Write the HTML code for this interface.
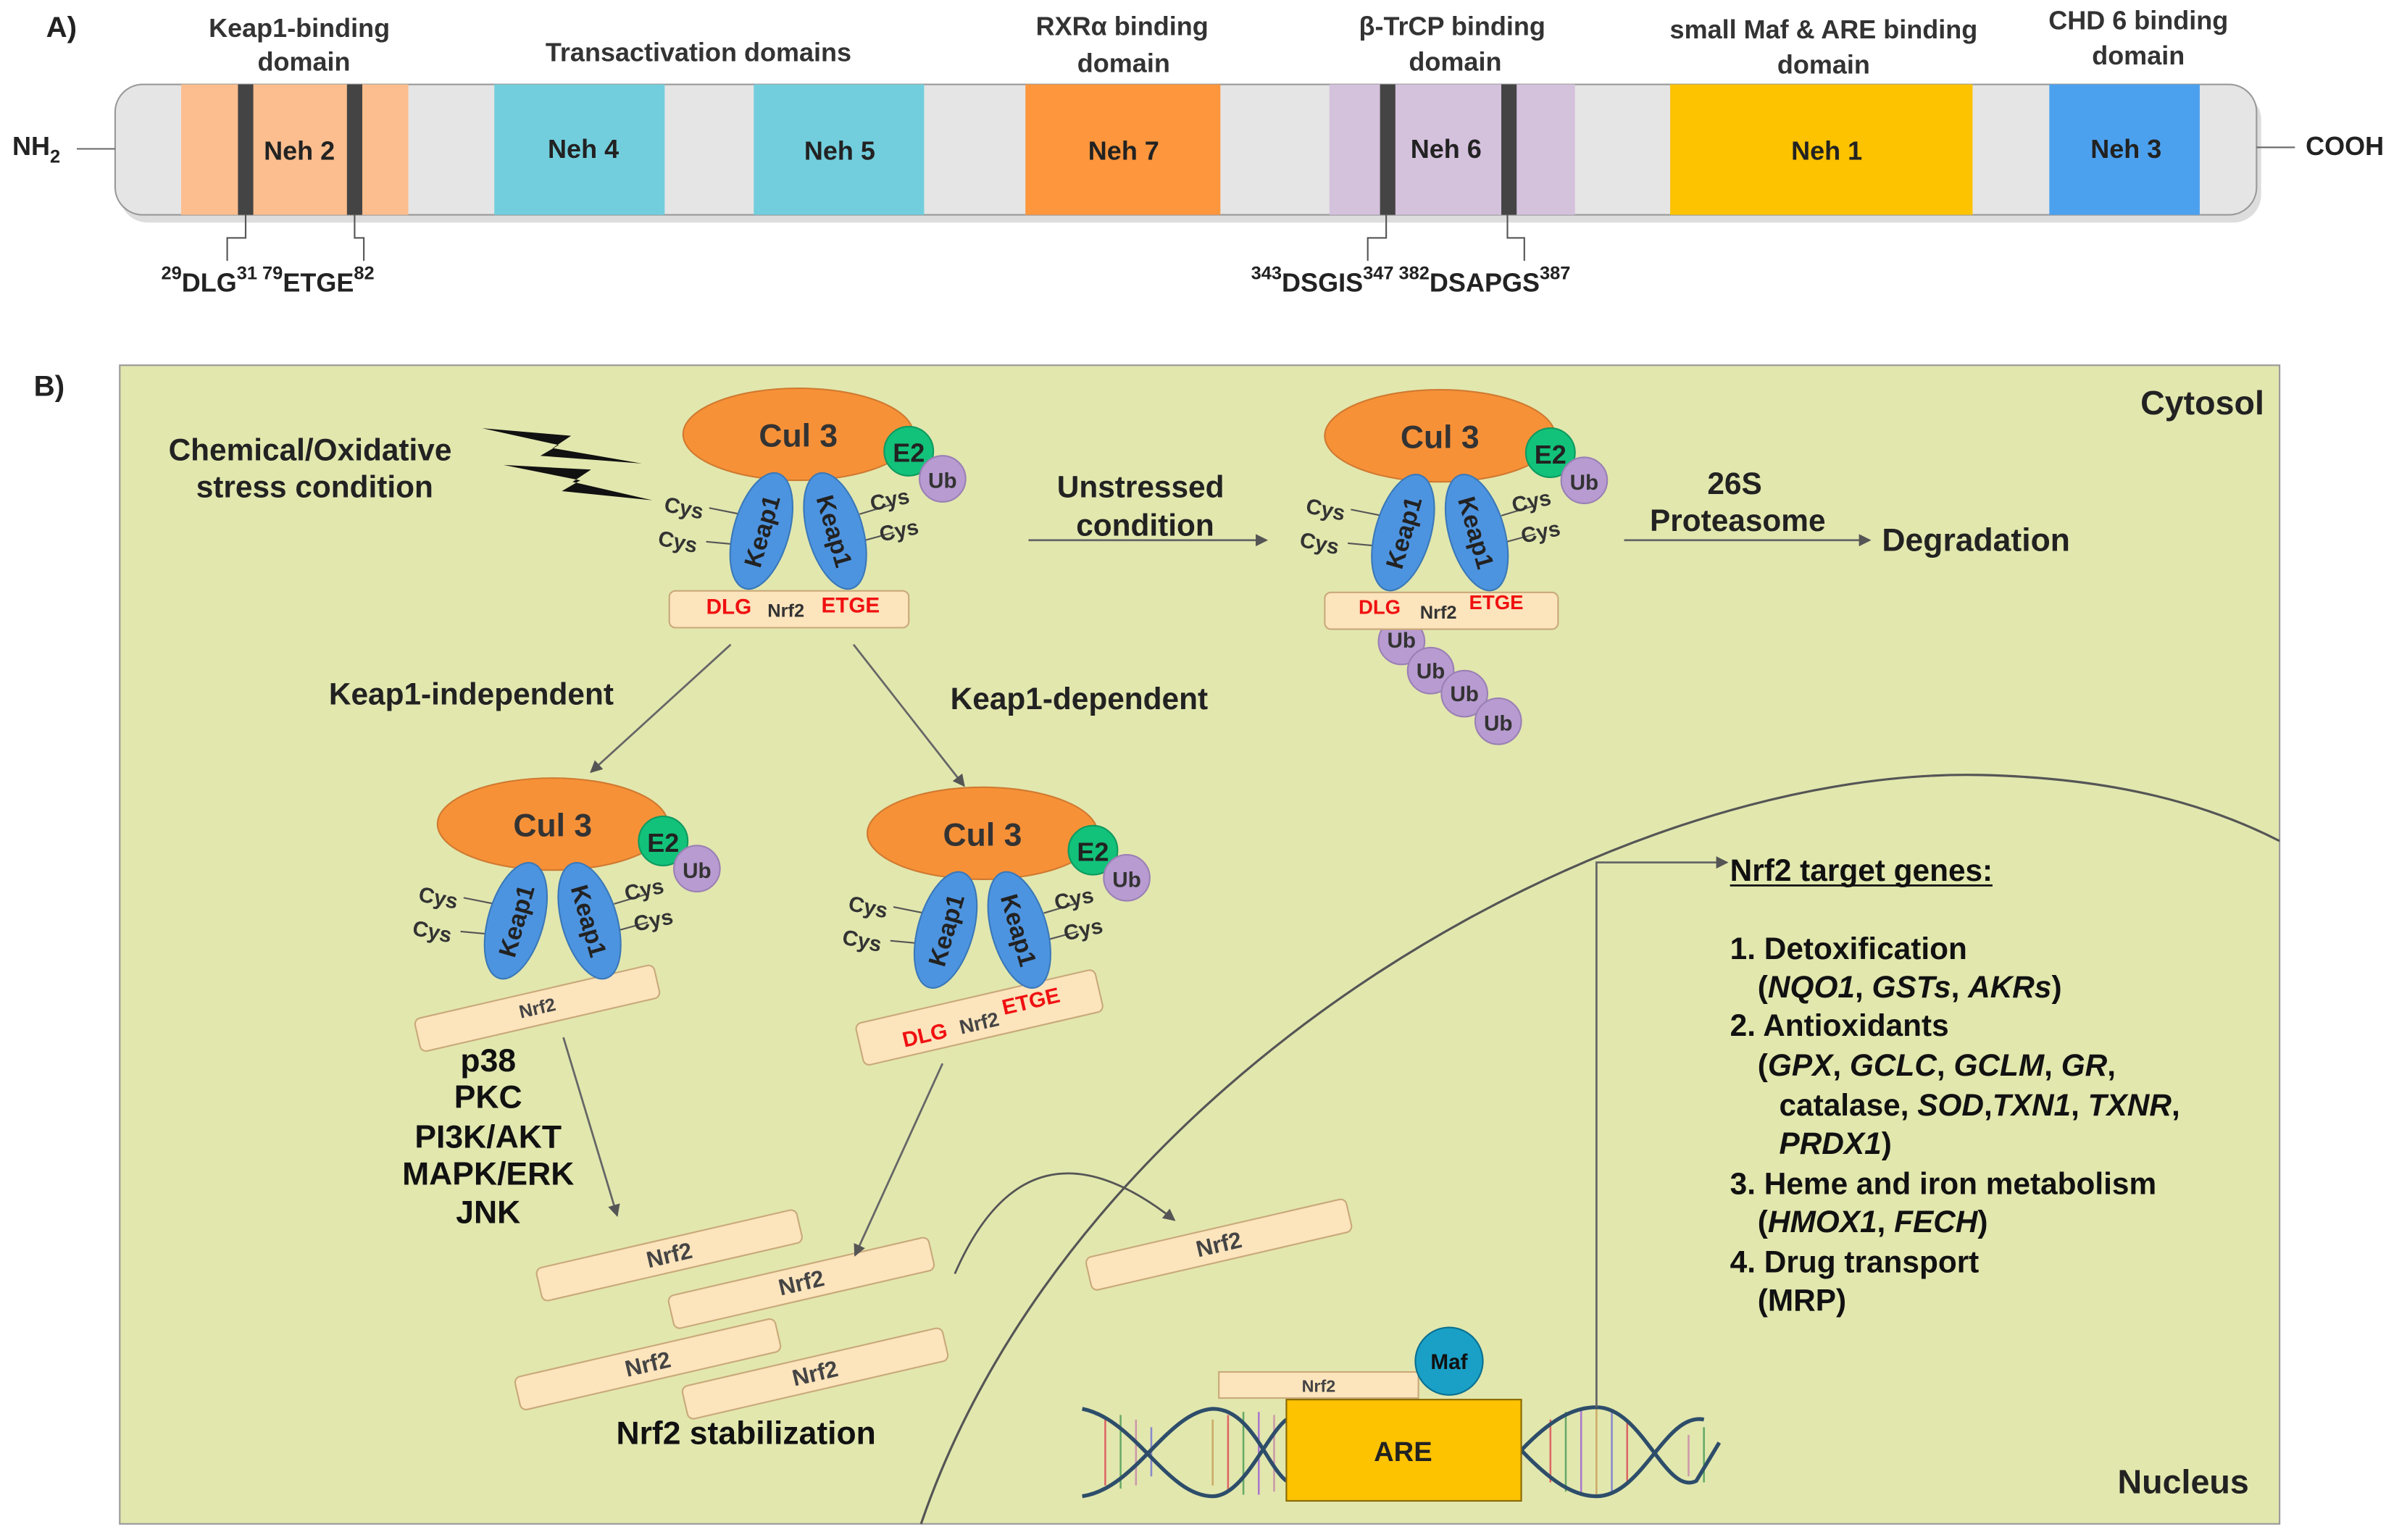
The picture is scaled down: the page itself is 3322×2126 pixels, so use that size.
<!DOCTYPE html>
<html><head><meta charset="utf-8"><style>
html,body{margin:0;padding:0;background:#fff;}
svg{display:block;}
text{font-family:"Liberation Sans",Arial,sans-serif;}
.b{font-weight:bold;}
</style></head><body>
<svg width="3322" height="2126" viewBox="0 0 1568 1003.5" xmlns="http://www.w3.org/2000/svg">
<defs>
<marker id="ar" markerWidth="8" markerHeight="8" refX="7" refY="4" orient="auto" markerUnits="userSpaceOnUse"><path d="M0,0 L8,4 L0,8 z" fill="#555"/></marker>
<g id="cx">
  <line x1="-58" y1="48" x2="-38" y2="52" stroke="#555" stroke-width="1"/>
  <line x1="-60" y1="70" x2="-38" y2="72" stroke="#555" stroke-width="1"/>
  <line x1="40" y1="52" x2="60" y2="46" stroke="#555" stroke-width="1"/>
  <line x1="40" y1="70" x2="62" y2="64" stroke="#555" stroke-width="1"/>
  <ellipse cx="0" cy="0" rx="75" ry="30" fill="#f79138" stroke="#d07a30"/>
  <text x="0" y="8" text-anchor="middle" class="b" font-size="21" fill="#333">Cul 3</text>
  <g transform="translate(-24,63) rotate(16)"><ellipse rx="18" ry="39" fill="#4d94e0" stroke="#3a78b8"/><text transform="rotate(-90)" x="0" y="6" text-anchor="middle" class="b" font-size="16" fill="#222">Keap1</text></g>
  <g transform="translate(24,63) rotate(-16)"><ellipse rx="18" ry="39" fill="#4d94e0" stroke="#3a78b8"/><text transform="rotate(90)" x="0" y="6" text-anchor="middle" class="b" font-size="16" fill="#222">Keap1</text></g>
  <circle cx="72" cy="11" r="16" fill="#12c27a" stroke="#0e9a60"/>
  <text x="72" y="18" text-anchor="middle" class="b" font-size="17" fill="#222">E2</text>
  <circle cx="94" cy="29" r="15" fill="#b89bd1" stroke="#9a80b5"/>
  <text x="94" y="35" text-anchor="middle" class="b" font-size="14" fill="#333">Ub</text>
  <text x="-88" y="50" class="b" font-size="14" fill="#333" transform="rotate(12,-88,50)">Cys</text>
  <text x="-92" y="72" class="b" font-size="14" fill="#333" transform="rotate(12,-92,72)">Cys</text>
  <text x="48" y="50" class="b" font-size="14" fill="#333" transform="rotate(-12,48,50)">Cys</text>
  <text x="54" y="70" class="b" font-size="14" fill="#333" transform="rotate(-12,54,70)">Cys</text>
</g>
<g id="bar"><rect x="-87" y="-11" width="174" height="22" rx="4" fill="#fce4bd" stroke="#c9a97a"/><text x="0" y="5" text-anchor="middle" class="b" font-size="15" fill="#444">Nrf2</text></g>
</defs>

<!-- Part A -->
<text x="30" y="24" class="b" font-size="19" fill="#222">A)</text>
<g font-size="17" fill="#333" text-anchor="middle" class="b">
<text x="195" y="24">Keap1-binding</text><text x="198" y="46">domain</text>
<text x="455" y="40">Transactivation domains</text>
<text x="731" y="23">RXRα binding</text><text x="732" y="47">domain</text>
<text x="946" y="23">β-TrCP binding</text><text x="948" y="46">domain</text>
<text x="1188" y="25">small Maf &amp; ARE binding</text><text x="1188" y="48">domain</text>
<text x="1393" y="19">CHD 6 binding</text><text x="1393" y="42">domain</text>
</g>
<rect x="78" y="60" width="1395" height="85" rx="18" fill="#bbb" opacity="0.5"/>
<rect x="75" y="55" width="1395" height="85" rx="18" fill="#e5e5e5" stroke="#999"/>
<rect x="118" y="55" width="148" height="85" fill="#fcbe8e"/>
<rect x="155" y="55" width="10" height="85" fill="#444"/><rect x="226" y="55" width="10" height="85" fill="#444"/>
<rect x="322" y="55" width="111" height="85" fill="#72cedd"/>
<rect x="491" y="55" width="111" height="85" fill="#72cedd"/>
<rect x="668" y="55" width="127" height="85" fill="#fd963c"/>
<rect x="866" y="55" width="160" height="85" fill="#d4c1dc"/>
<rect x="899" y="55" width="10" height="85" fill="#444"/><rect x="978" y="55" width="10" height="85" fill="#444"/>
<rect x="1088" y="55" width="197" height="85" fill="#fdc200"/>
<rect x="1335" y="55" width="98" height="85" fill="#4ca1ef"/>
<g font-size="17" fill="#222" text-anchor="middle" class="b">
<text x="195" y="104">Neh 2</text><text x="380" y="103">Neh 4</text><text x="547" y="104">Neh 5</text>
<text x="732" y="104">Neh 7</text><text x="942" y="103">Neh 6</text><text x="1190" y="104">Neh 1</text><text x="1385" y="103">Neh 3</text>
</g>
<line x1="50" y1="97" x2="75" y2="97" stroke="#666"/><line x1="1470" y1="96" x2="1495" y2="96" stroke="#666"/>
<text x="8" y="101" font-size="17" fill="#222" class="b">NH<tspan font-size="12" dy="5">2</tspan></text>
<text x="1502" y="101" font-size="17" fill="#222" class="b">COOH</text>
<g stroke="#555" fill="none"><path d="M160 140 V155 H148 V170"/><path d="M231 140 V155 H237 V170"/><path d="M903 140 V155 H891 V170"/><path d="M982 140 V155 H993 V170"/></g>
<g font-size="17" fill="#222" class="b"><text x="105" y="190"><tspan font-size="12" dy="-8">29</tspan><tspan dy="8">DLG</tspan><tspan font-size="12" dy="-8">31</tspan><tspan font-size="12"> 79</tspan><tspan dy="8">ETGE</tspan><tspan font-size="12" dy="-8">82</tspan></text>
<text x="815" y="190"><tspan font-size="12" dy="-8">343</tspan><tspan dy="8">DSGIS</tspan><tspan font-size="12" dy="-8">347 382</tspan><tspan dy="8">DSAPGS</tspan><tspan font-size="12" dy="-8">387</tspan></text></g>

<!-- Part B -->
<text x="22" y="258" class="b" font-size="19" fill="#222">B)</text>
<rect x="78" y="238" width="1407" height="755" fill="#e2e7ae" stroke="#999"/>
<path d="M600 993 C 700 700, 1050 500, 1290 505 C 1380 507, 1440 525, 1485 548" fill="none" stroke="#555" stroke-width="1.5"/>
<text x="1475" y="270" text-anchor="end" class="b" font-size="22" fill="#222">Cytosol</text>
<text x="1465" y="973" text-anchor="end" class="b" font-size="22" fill="#222">Nucleus</text>

<text x="202" y="300" text-anchor="middle" class="b" font-size="20" fill="#222">Chemical/Oxidative</text>
<text x="205" y="324" text-anchor="middle" class="b" font-size="20" fill="#222">stress condition</text>
<polygon points="314,279 372,284 360,292 418,302 352,297 364,290" fill="#111"/>
<polygon points="328,303 385,306 373,314 425,326 366,320 378,313" fill="#111"/>

<!-- complex 1 -->
<rect x="436" y="385" width="156" height="24" rx="4" fill="#fce4bd" stroke="#c9a97a"/>
<use href="#cx" transform="translate(520,283)"/>
<text x="460" y="400" class="b" font-size="14" fill="#f01010">DLG</text>
<text x="500" y="402" class="b" font-size="12" fill="#333">Nrf2</text>
<text x="535" y="399" class="b" font-size="14" fill="#f01010">ETGE</text>

<line x1="670" y1="352" x2="825" y2="352" stroke="#666" stroke-width="1.3" marker-end="url(#ar)"/>
<text x="743" y="324" text-anchor="middle" class="b" font-size="20" fill="#222">Unstressed</text>
<text x="746" y="349" text-anchor="middle" class="b" font-size="20" fill="#222">condition</text>

<!-- complex 2 -->
<g fill="#b89bd1" stroke="#9a80b5"><circle cx="913" cy="418" r="15"/><circle cx="932" cy="437" r="15"/><circle cx="954" cy="452" r="15"/><circle cx="976" cy="470" r="15"/></g>
<g class="b" font-size="14" fill="#333" text-anchor="middle"><text x="913" y="422">Ub</text><text x="932" y="442">Ub</text><text x="954" y="457">Ub</text><text x="976" y="476">Ub</text></g>
<rect x="863" y="386" width="152" height="24" rx="4" fill="#fce4bd" stroke="#c9a97a"/>
<use href="#cx" transform="translate(938,284)"/>
<text x="885" y="400" class="b" font-size="13" fill="#f01010">DLG</text>
<text x="925" y="403" class="b" font-size="12" fill="#333">Nrf2</text>
<text x="957" y="397" class="b" font-size="13" fill="#f01010">ETGE</text>

<line x1="1058" y1="352" x2="1218" y2="352" stroke="#666" stroke-width="1.3" marker-end="url(#ar)"/>
<text x="1130" y="322" text-anchor="middle" class="b" font-size="20" fill="#222">26S</text>
<text x="1132" y="346" text-anchor="middle" class="b" font-size="20" fill="#222">Proteasome</text>
<text x="1226" y="359" class="b" font-size="21" fill="#222">Degradation</text>

<line x1="476" y1="420" x2="385" y2="503" stroke="#666" stroke-width="1.3" marker-end="url(#ar)"/>
<line x1="556" y1="420" x2="628" y2="512" stroke="#666" stroke-width="1.3" marker-end="url(#ar)"/>
<text x="307" y="459" text-anchor="middle" class="b" font-size="20" fill="#222">Keap1-independent</text>
<text x="703" y="462" text-anchor="middle" class="b" font-size="20" fill="#222">Keap1-dependent</text>

<!-- complex 3 -->
<g transform="translate(350,657) rotate(-13)"><rect x="-80" y="-11" width="160" height="22" rx="4" fill="#fce4bd" stroke="#c9a97a"/><text x="0" y="4" text-anchor="middle" class="b" font-size="12" fill="#444">Nrf2</text></g>
<use href="#cx" transform="translate(360,537)"/>
<!-- complex 4 -->
<g transform="translate(638,663) rotate(-13)"><rect x="-80" y="-14" width="160" height="28" rx="4" fill="#fce4bd" stroke="#c9a97a"/><text x="-52" y="8" class="b" font-size="14" fill="#f01010">DLG</text><text x="-14" y="8" class="b" font-size="13" fill="#444">Nrf2</text><text x="16" y="2" class="b" font-size="14" fill="#f01010">ETGE</text></g>
<use href="#cx" transform="translate(640,543)"/>

<g class="b" font-size="21" fill="#111" text-anchor="middle">
<text x="318" y="698">p38</text><text x="318" y="722">PKC</text><text x="318" y="748">PI3K/AKT</text><text x="318" y="772">MAPK/ERK</text><text x="318" y="797">JNK</text></g>

<use href="#bar" transform="translate(436,818) rotate(-13)"/>
<use href="#bar" transform="translate(522,836) rotate(-13)"/>
<use href="#bar" transform="translate(422,889) rotate(-13)"/>
<use href="#bar" transform="translate(531,895) rotate(-13)"/>
<use href="#bar" transform="translate(794,811) rotate(-13)"/>
<line x1="367" y1="676" x2="402" y2="792" stroke="#666" stroke-width="1.3" marker-end="url(#ar)"/>
<line x1="614" y1="693" x2="557" y2="818" stroke="#666" stroke-width="1.3" marker-end="url(#ar)"/>
<path d="M622 830 Q 670 720 765 795" fill="none" stroke="#555" stroke-width="1.3" marker-end="url(#ar)"/>
<text x="486" y="941" text-anchor="middle" class="b" font-size="21" fill="#111">Nrf2 stabilization</text>

<!-- DNA -->
<g stroke-width="1.2">
<line x1="720" y1="925" x2="720" y2="968" stroke="#d66"/><line x1="730" y1="922" x2="730" y2="970" stroke="#6a6"/><line x1="740" y1="925" x2="740" y2="968" stroke="#c9a"/><line x1="750" y1="930" x2="750" y2="962" stroke="#88c"/>
<line x1="790" y1="925" x2="790" y2="968" stroke="#ca6"/><line x1="800" y1="922" x2="800" y2="972" stroke="#d66"/><line x1="810" y1="920" x2="810" y2="974" stroke="#6a6"/><line x1="820" y1="920" x2="820" y2="974" stroke="#a7c"/><line x1="830" y1="922" x2="830" y2="972" stroke="#c9a"/>
<line x1="1010" y1="925" x2="1010" y2="966" stroke="#d66"/><line x1="1020" y1="920" x2="1020" y2="972" stroke="#6a6"/><line x1="1030" y1="918" x2="1030" y2="974" stroke="#a7c"/><line x1="1040" y1="918" x2="1040" y2="974" stroke="#ca6"/><line x1="1050" y1="920" x2="1050" y2="972" stroke="#88c"/><line x1="1060" y1="925" x2="1060" y2="966" stroke="#d66"/>
<line x1="1100" y1="935" x2="1100" y2="962" stroke="#c9a"/><line x1="1110" y1="930" x2="1110" y2="966" stroke="#6a6"/>
</g>
<path d="M705 918 C 740 925, 760 975, 790 975 C 810 975, 825 935, 838 925 M991 945 C 1010 925, 1025 917, 1040 917 C 1070 917, 1085 975, 1105 965 L1120 940" fill="none" stroke="#2d4d6a" stroke-width="2.5"/>
<path d="M705 975 C 740 970, 760 920, 790 918 C 815 918, 825 955, 838 965 M991 945 C 1010 965, 1025 975, 1040 975 C 1070 975, 1085 920, 1110 925" fill="none" stroke="#2d4d6a" stroke-width="2.5"/>
<rect x="794" y="894" width="130" height="17" fill="#fce4bd" stroke="#c9a97a"/>
<text x="859" y="907" text-anchor="middle" font-size="11" class="b" fill="#444">Nrf2</text>
<rect x="838" y="912" width="153" height="66" fill="#fdc200" stroke="#8a6a00"/>
<text x="914" y="952" text-anchor="middle" class="b" font-size="18" fill="#222">ARE</text>
<circle cx="944" cy="887" r="22" fill="#1aa0c6" stroke="#0a7090"/>
<text x="944" y="892" text-anchor="middle" class="b" font-size="14" fill="#111">Maf</text>

<path d="M1040 917 V562 H1125" fill="none" stroke="#666" stroke-width="1.3" marker-end="url(#ar)"/>
<text x="1127" y="574" class="b" font-size="20" fill="#111">Nrf2 target genes:</text>
<line x1="1127" y1="577" x2="1298" y2="577" stroke="#111" stroke-width="1.3"/>
<g class="b" font-size="20" fill="#111">
<text x="1127" y="625">1. Detoxification</text>
<text x="1145" y="650">(<tspan font-style="italic">NQO1</tspan>, <tspan font-style="italic">GSTs</tspan>, <tspan font-style="italic">AKRs</tspan>)</text>
<text x="1127" y="675">2. Antioxidants</text>
<text x="1145" y="701">(<tspan font-style="italic">GPX</tspan>, <tspan font-style="italic">GCLC</tspan>, <tspan font-style="italic">GCLM</tspan>, <tspan font-style="italic">GR</tspan>,</text>
<text x="1159" y="727">catalase, <tspan font-style="italic">SOD</tspan>,<tspan font-style="italic">TXN1</tspan>, <tspan font-style="italic">TXNR</tspan>,</text>
<text x="1159" y="752"><tspan font-style="italic">PRDX1</tspan>)</text>
<text x="1127" y="778">3. Heme and iron metabolism</text>
<text x="1145" y="803">(<tspan font-style="italic">HMOX1</tspan>, <tspan font-style="italic">FECH</tspan>)</text>
<text x="1127" y="829">4. Drug transport</text>
<text x="1145" y="854">(MRP)</text>
</g>
</svg>
</body></html>
